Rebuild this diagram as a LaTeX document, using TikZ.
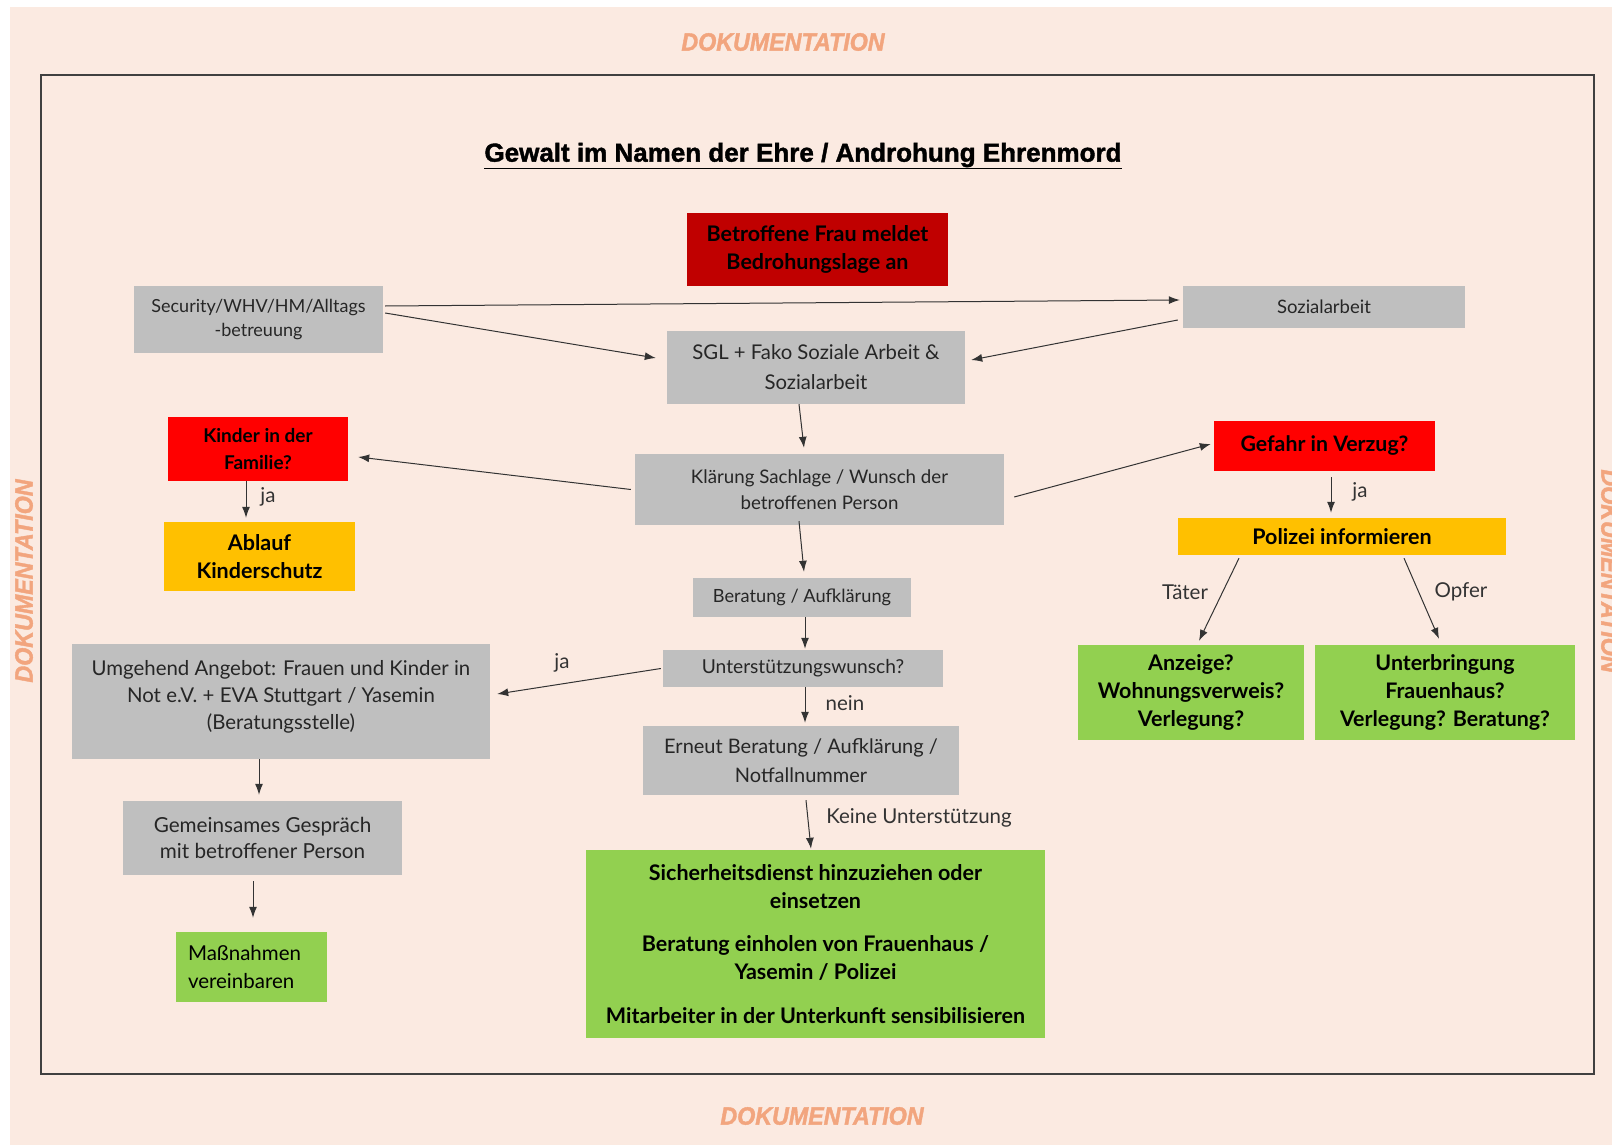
\documentclass[tikz,border=0pt]{standalone}
\usepackage{fontspec}
\setmainfont{Lato}
\newfontfamily\titlefont{Liberation Sans}[BoldFeatures={FakeBold=1.6}, BoldItalicFeatures={FakeBold=1.6}]
\usetikzlibrary{arrows.meta}

\definecolor{bgpeach}{HTML}{FBEAE1}
\definecolor{docorange}{HTML}{F2A57E}
\definecolor{boxgray}{HTML}{BFBFBF}
\definecolor{darkred}{HTML}{C00000}
\definecolor{alertred}{HTML}{FF0000}
\definecolor{amber}{HTML}{FFC000}
\definecolor{leafgreen}{HTML}{92D050}

\newcommand{\fsz}[2]{\fontsize{#1}{#2}\selectfont}

\tikzset{
  box/.style={inner sep=2pt, align=center, text=black!85},
  graybox/.style={box, fill=boxgray},
  redbox/.style={box, fill=alertred, text=black},
  greenbox/.style={box, fill=leafgreen, text=black},
  flow/.style={draw=black!80, line width=1pt, -{Latex[length=11pt,width=8pt]}},
  lbl/.style={text=black!80, font=\fsz{20.5}{24}, inner sep=0pt},
  doc/.style={text=docorange, font=\titlefont\bfseries\itshape\fsz{25}{25}}
}

\begin{document}
\begin{tikzpicture}[x=1pt, y=-1pt]

%Page
\useasboundingbox (0,0) rectangle (1612,1145);
\fill[white] (0,0) rectangle (1612,1145);
\fill[bgpeach] (10,7) rectangle (1612,1145);

%Frame
\draw[black!75, line width=2.2pt] (41,75) rectangle (1594,1074);

%Dokumentation
\node[doc] (doctop) at (783,42) {\scalebox{0.93}[1]{DOKUMENTATION}};
\node[doc] (docbottom) at (822,1116) {\scalebox{0.93}[1]{DOKUMENTATION}};
\node[doc, rotate=90] (docleft) at (24,581) {\scalebox{0.93}[1]{DOKUMENTATION}};
\node[doc, rotate=-90] (docright) at (1610,571) {\scalebox{0.93}[1]{DOKUMENTATION}};

%Title
\node[font=\titlefont\bfseries\fsz{26}{30}] (title) at (803,156)
  {\underline{Gewalt im Namen der Ehre / Androhung Ehrenmord}};

%Nodes
\node[box, fill=darkred, text=black, font=\bfseries\fsz{21.5}{27.8}, minimum width=261pt, minimum height=73pt] (meldung) at (817.5,249.5)
  {Betroffene Frau meldet\\Bedrohungslage an};
\node[graybox, font=\fsz{18}{24.7}, minimum width=249pt, minimum height=67pt] (security) at (258.5,319.5)
  {Security/WHV/HM/Alltags\\-betreuung};
\node[graybox, font=\fsz{18.5}{22}, minimum width=282pt, minimum height=42pt] (sozial) at (1324,307)
  {Sozialarbeit};
\node[graybox, font=\fsz{20.3}{30}, minimum width=298pt, minimum height=73pt] (sgl) at (816,367.5)
  {SGL + Fako Soziale Arbeit \&\\Sozialarbeit};
\node[redbox, font=\bfseries\fsz{19}{26.7}, minimum width=180pt, minimum height=64pt] (kinder) at (258,449)
  {Kinder in der\\Familie?};
\node[box, fill=amber, text=black, font=\bfseries\fsz{21.5}{27.8}, minimum width=191pt, minimum height=69pt] (ablauf) at (259.5,556.5)
  {Ablauf\\Kinderschutz};
\node[graybox, font=\fsz{18.7}{25.7}, minimum width=369pt, minimum height=71pt] (klaerung) at (819.5,489.5)
  {Klärung Sachlage / Wunsch der\\betroffenen Person};
\node[redbox, font=\bfseries\fsz{21.3}{25}, minimum width=221pt, minimum height=50pt] (gefahr) at (1324.5,446)
  {Gefahr in Verzug?};
\node[box, fill=amber, text=black, font=\bfseries\fsz{21.5}{25}, minimum width=328pt, minimum height=37pt] (polizei) at (1342,536.5)
  {Polizei informieren};
\node[greenbox, font=\bfseries\fsz{21.5}{27.8}, minimum width=226pt, minimum height=95pt] (anzeige) at (1191,692.5)
  {Anzeige?\\Wohnungsverweis?\\Verlegung?};
\node[greenbox, font=\bfseries\fsz{21.4}{27.8}, minimum width=260pt, minimum height=95pt] (unterkunft) at (1445,692.5)
  {Unterbringung\\Frauenhaus?\\Verlegung? Beratung?};
\node[graybox, font=\fsz{18.2}{22}, minimum width=218pt, minimum height=39pt] (beratung) at (802,597.5)
  {Beratung / Aufklärung};
\node[graybox, font=\fsz{19.2}{22}, minimum width=280pt, minimum height=37pt] (wunsch) at (803,668.5)
  {Unterstützungswunsch?};
\node[graybox, font=\fsz{20.4}{27.3}, minimum width=418pt, minimum height=115pt] (angebot) at (281,701.5)
  {Umgehend Angebot: Frauen und Kinder in\\Not e.V. + EVA Stuttgart / Yasemin\\(Beratungsstelle)\\[-14pt]\mbox{}};
\node[graybox, font=\fsz{20}{28.8}, minimum width=316pt, minimum height=69pt] (erneut) at (801,760.5)
  {Erneut Beratung / Aufklärung /\\Notfallnummer};
\node[graybox, font=\fsz{20.7}{26.7}, minimum width=279pt, minimum height=74pt] (gespraech) at (262.5,838)
  {Gemeinsames Gespräch\\mit betroffener Person};
\node[greenbox, align=left, font=\fsz{20.5}{28.8}, minimum width=151pt, minimum height=70pt] (massnahmen) at (251.5,967)
  {Maßnahmen\hspace*{14pt}\\vereinbaren\hspace*{14pt}};
\node[greenbox, font=\bfseries\fsz{21.5}{27.8}, minimum width=459pt, minimum height=188pt] (sicherheit) at (815.5,944)
  {Sicherheitsdienst hinzuziehen oder\\einsetzen\\[15.5pt]Beratung einholen von Frauenhaus /\\Yasemin / Polizei\\[15.5pt]Mitarbeiter in der Unterkunft sensibilisieren};

%Connectors
\draw[flow] ([xshift=2pt,yshift=13.5pt]security.east) -- ([xshift=-3pt,yshift=7pt]sozial.west);
\draw[flow] ([xshift=2pt,yshift=6.5pt]security.east) -- ([xshift=-11pt,yshift=9.5pt]sgl.west);
\draw[flow] ([xshift=-5pt,yshift=-13pt]sozial.west) -- ([xshift=6pt,yshift=7.5pt]sgl.east);
\draw[flow] ([xshift=-17pt]sgl.south) -- ([xshift=-15.5pt,yshift=6pt]klaerung.north);
\draw[flow] ([xshift=-4pt]klaerung.west) -- ([xshift=10pt,yshift=-8pt]kinder.east);
\draw[flow] ([xshift=-12pt]kinder.south) -- ([xshift=-13.5pt,yshift=4pt]ablauf.north);
\draw[flow] ([xshift=10pt,yshift=-7.5pt]klaerung.east) -- ([xshift=-3pt,yshift=2pt]gefahr.west);
\draw[flow] ([xshift=6.5pt,yshift=-6pt]gefahr.south) -- ([xshift=-11pt,yshift=5pt]polizei.north);
\draw[flow] ([xshift=-103pt,yshift=-3pt]polizei.south) -- ([xshift=8pt,yshift=4pt]anzeige.north);
\draw[flow] ([xshift=62pt,yshift=-3pt]polizei.south) -- ([xshift=-6pt,yshift=6pt]unterkunft.north);
\draw[flow] ([xshift=-20.5pt,yshift=4pt]klaerung.south) -- ([xshift=2pt,yshift=6pt]beratung.north);
\draw[flow] ([xshift=3pt]beratung.south) -- ([xshift=2pt,yshift=1pt]wunsch.north);
\draw[flow] ([xshift=-2pt]wunsch.west) -- ([xshift=7pt,yshift=7.5pt]angebot.east);
\draw[flow] ([xshift=2pt]wunsch.south) -- ([xshift=4pt,yshift=3pt]erneut.north);
\draw[flow] ([xshift=-22pt]angebot.south) -- ([xshift=-3.5pt,yshift=6pt]gespraech.north);
\draw[flow] ([xshift=-9.5pt,yshift=-6pt]gespraech.south) -- ([xshift=1.5pt,yshift=14pt]massnahmen.north);
\draw[flow] ([xshift=5pt,yshift=-5pt]erneut.south) -- ([xshift=-4.5pt,yshift=1pt]sicherheit.north);

%Labels
\node[lbl] (jakinder) at (268,497) {ja};
\node[lbl] (jagefahr) at (1360,492) {ja};
\node[lbl] (taeter) at (1185,592) {Täter};
\node[lbl] (opfer) at (1461,592) {Opfer};
\node[lbl] (jaangebot) at (562,663) {ja};
\node[lbl] (nein) at (845,703) {nein};
\node[lbl] (keine) at (919,818) {Keine Unterstützung};

\end{tikzpicture}
\end{document}
